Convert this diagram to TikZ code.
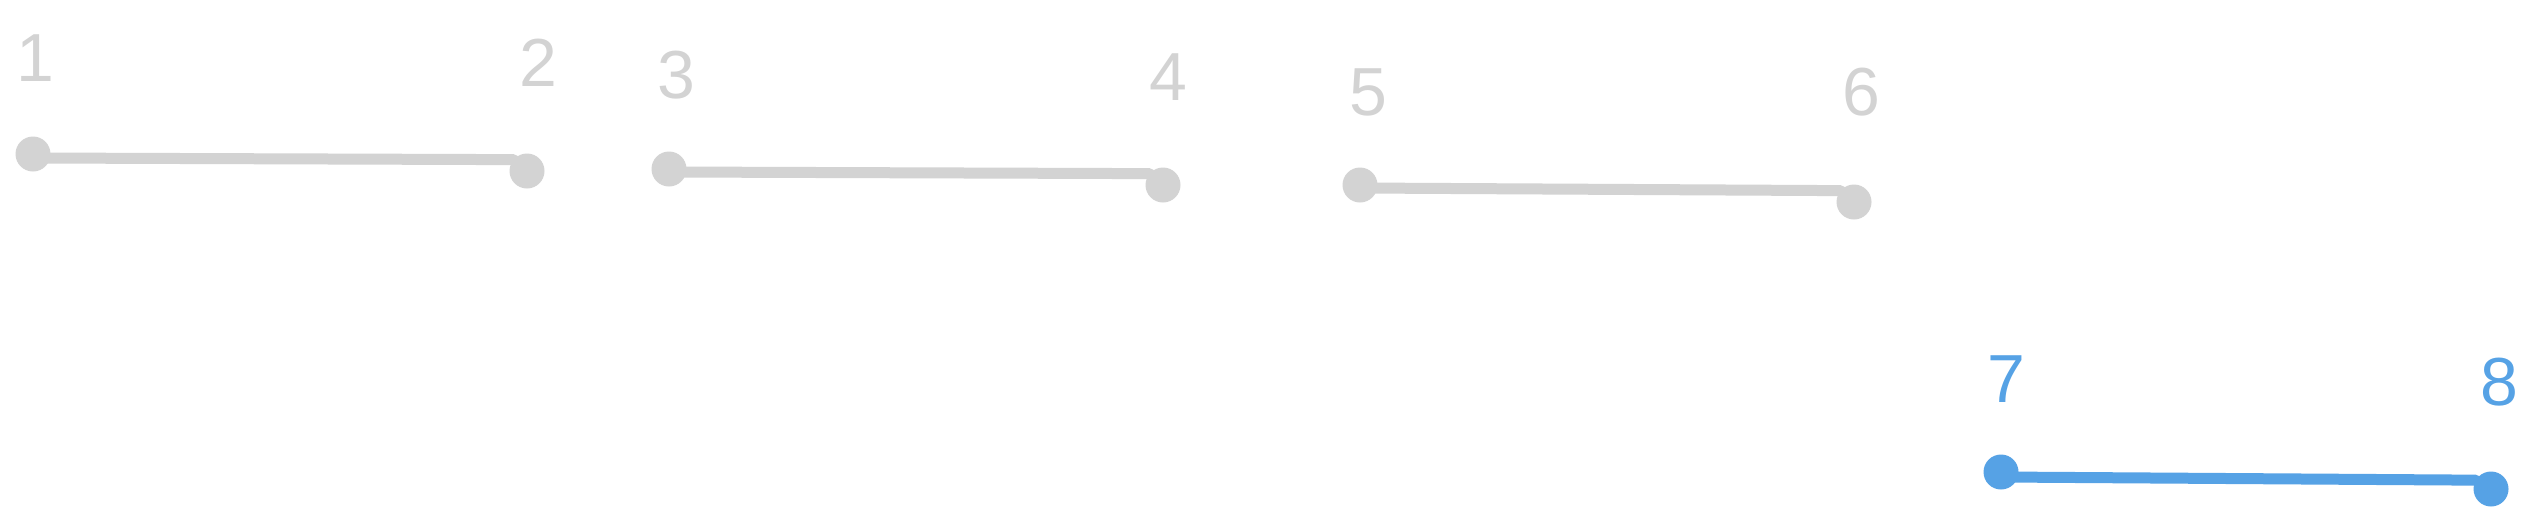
\documentclass[tikz,border=0pt]{standalone}
\usepackage{fontspec}
\setmainfont{Liberation Sans}
\definecolor{dotgray}{HTML}{D3D3D3}
\definecolor{dotblue}{HTML}{56A2E5}
\tikzset{
  pin/.style={circle, fill=#1, draw=none, minimum size=35pt, inner sep=0pt},
  numlabel/.style={text=#1, inner sep=0pt, font=\fontsize{68}{80}\selectfont},
  link/.style={draw=#1, line width=11pt, line cap=round}
}
\begin{document}
\begin{tikzpicture}[x=1pt, y=-1pt]
\useasboundingbox (0,0) rectangle (2542,509);
\node[pin=dotgray] (d1) at (33,154) {};
\node[pin=dotgray] (d2) at (527,171) {};
\node[pin=dotgray] (d3) at (669,169) {};
\node[pin=dotgray] (d4) at (1163,185) {};
\node[pin=dotgray] (d5) at (1360,185) {};
\node[pin=dotgray] (d6) at (1854,202) {};
\node[pin=dotblue] (d7) at (2001,472) {};
\node[pin=dotblue] (d8) at (2491,489) {};
\node[numlabel=dotgray] (l1) at (35,58) {1};
\node[numlabel=dotgray] (l2) at (538,63) {2};
\node[numlabel=dotgray] (l3) at (676,75) {3};
\node[numlabel=dotgray] (l4) at (1168,77) {4};
\node[numlabel=dotgray] (l5) at (1368,92) {5};
\node[numlabel=dotgray] (l6) at (1861,92) {6};
\node[numlabel=dotblue] (l7) at (2006,379) {7};
\node[numlabel=dotblue] (l8) at (2499,382) {8};
\draw[link=dotgray] ([yshift=-4pt]d1.center) -- (d2.140);
\draw[link=dotgray] ([yshift=-3pt]d3.center) -- (d4.140);
\draw[link=dotgray] ([yshift=-3pt]d5.center) -- (d6.140);
\draw[link=dotblue] ([yshift=-5pt]d7.center) -- (d8.150);
\end{tikzpicture}
\end{document}
